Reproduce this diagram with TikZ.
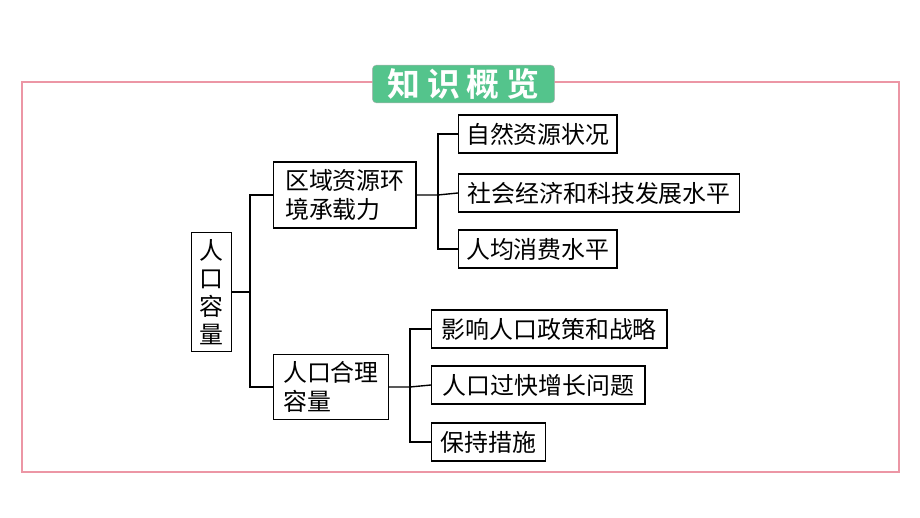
\documentclass[tikz,border=0pt]{standalone}
\usepackage{fontspec}
\newfontfamily\cjk{Noto Sans CJK SC}
\newfontfamily\cjkbf{Noto Sans CJK SC Bold}
\usetikzlibrary{positioning, calc}
\definecolor{frame}{RGB}{236,150,165}
\definecolor{tag}{RGB}{84,196,140}
\tikzset{
  box/.style={draw, line width=1.4pt, inner sep=0pt, anchor=west, minimum height=38,
    font=\cjk\fontsize{24}{29}\selectfont},
  link/.style={line width=1.4pt}
}
\begin{document}
\begin{tikzpicture}[x=1bp, y=-1bp]
      \useasboundingbox (0,0) rectangle (920,518);
      \draw[frame, line width=1.5pt] (22,82) rectangle (899,472);
      \node[fill=tag, draw=gray!60, rounded corners=4pt, minimum width=183, minimum height=38,
        text=white, font=\cjkbf\fontsize{33}{33}\selectfont] (title) at (463.5,84)
        {知\hspace{7bp}识\hspace{7bp}概\hspace{7bp}览};

      % root and first level
      \node[box, minimum width=40, minimum height=120, align=center,
        font=\cjk\fontsize{24}{28}\selectfont] (root) at (191,292) {人\\口\\容\\量};
      \node[box, minimum width=143, minimum height=66, align=left] (area) at (273,195)
        {区域资源环\\境承载力};
      \node[box, minimum width=115, minimum height=65, align=left] (cap) at (273,387)
        {人口合理\\容量};

      % second level
      \node[box, minimum width=159] (nat) at (458,134) {自然资源状况};
      \node[box, minimum width=282] (soc) at (458,193) {社会经济和科技发展水平};
      \node[box, minimum width=159] (cons) at (458,249) {人均消费水平};
      \node[box, minimum width=236] (pol) at (431,329) {影响人口政策和战略};
      \node[box, minimum width=214] (fast) at (431,385) {人口过快增长问题};
      \node[box, minimum width=114] (keep) at (431,442) {保持措施};

      % connectors
      \coordinate (ja) at (250,292);
      \coordinate (jb) at (438,195);
      \coordinate (jc) at (410,387);
      \draw[link] (root.east) -- (ja);
      \draw[link] (area.west) -| (ja) |- (cap.west);
      \draw[link] (area.east) -- (jb) -- (soc.west);
      \draw[link] (nat.west) -| (jb) |- (cons.west);
      \draw[link] (cap.east) -- (jc) -- (fast.west);
      \draw[link] (pol.west) -| (jc) |- (keep.west);
    \end{tikzpicture}
\end{document}
